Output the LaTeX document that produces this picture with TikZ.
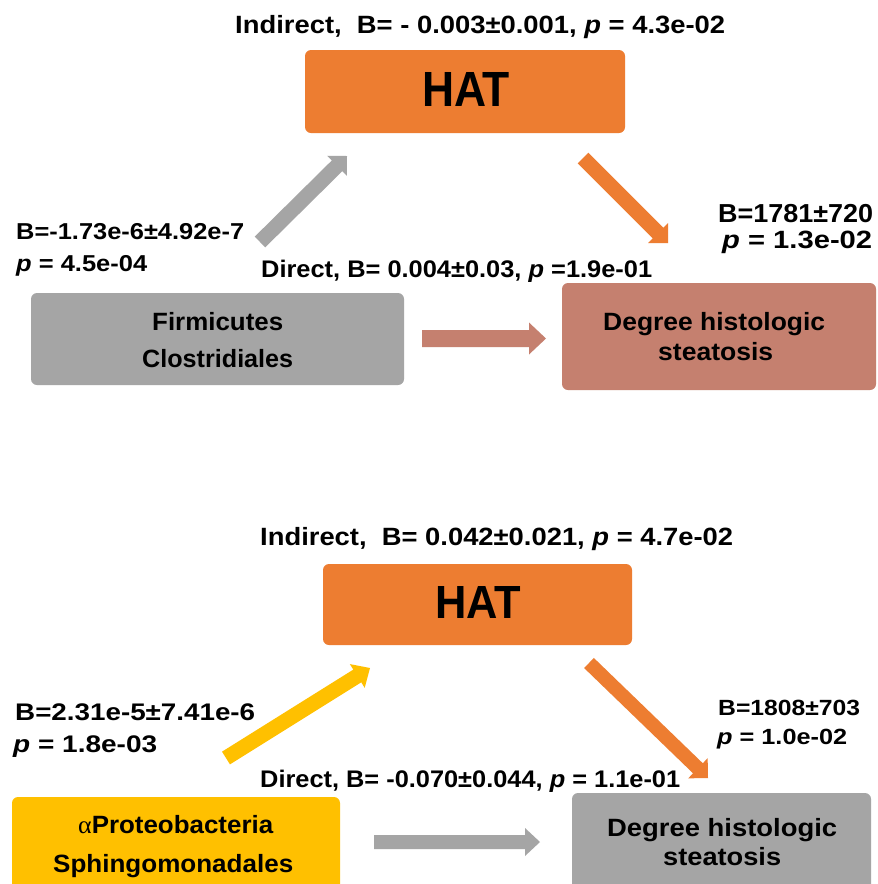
\documentclass[tikz,border=0pt]{standalone}
\usepackage{fontspec}
\setmainfont{Liberation Sans}
\newfontfamily\alphafont{Liberation Serif}
\usepackage{graphicx}
\usetikzlibrary{calc}
\definecolor{hatorange}{HTML}{ED7D31}
\definecolor{boxgray}{HTML}{A5A5A5}
\definecolor{steabrown}{HTML}{C5806F}
\definecolor{protoyellow}{HTML}{FFC000}
\newcommand\fw[2]{\resizebox{#1pt}{\height}{#2}}
\newcommand\blockarrow[6]{%
  \coordinate (hb) at ($(#3)!#6!(#2)$);
  \fill[#1] ($(#2)!#4!90:(#3)$) -- ($(hb)!#4!-90:(#2)$) -- ($(hb)!#5!-90:(#2)$) -- (#3)
    -- ($(hb)!#5!90:(#2)$) -- ($(hb)!#4!90:(#2)$) -- ($(#2)!#4!-90:(#3)$) -- cycle;}
\tikzset{
  box/.style={rectangle, rounded corners=6pt, inner sep=0pt, draw=none},
  lbl/.style={anchor=base west, inner sep=0pt},
  fs/.style={font=\bfseries\fontsize{#1}{#1}\selectfont},
}
\begin{document}
\begin{tikzpicture}[x=1pt,y=-1pt]
\clip (0,0) rectangle (878,884);
\fill[white] (0,0) rectangle (878,884);

% ---------- top panel ----------
\node[box, fill=hatorange, minimum width=320pt, minimum height=83pt] (hat1) at (465,91.5) {};
\node[inner sep=0pt, anchor=base] (hat1t) at (466,106) {\resizebox{88pt}{34pt}{\bfseries\fontsize{47}{47}\selectfont HAT}};
\node[box, fill=boxgray, minimum width=373pt, minimum height=92pt] (firm) at (217.5,339) {};
\node[box, fill=steabrown, minimum width=314pt, minimum height=107pt] (stea1) at (719,336.5) {};

\node[lbl, fs=25] (t1) at (235,33) {\fw{490}{Indirect,\ \ B=\ -\ 0.003±0.001, \textit{p} = 4.3e-02}};
\node[lbl, fs=23] (lb1a) at (16,239) {\fw{228}{B=-1.73e-6±4.92e-7}};
\node[lbl, fs=23] (lb1b) at (16,271) {\fw{131}{\textit{p} = 4.5e-04}};
\node[lbl, fs=26] (rb1a) at (718,222) {\fw{155}{B=1781±720}};
\node[lbl, fs=25] (rb1b) at (722,248) {\fw{150}{\textit{p} = 1.3e-02}};
\node[lbl, fs=24] (d1) at (261,277) {\fw{391}{Direct, B= 0.004±0.03, \textit{p} =1.9e-01}};
\node[lbl, fs=25] (f1) at (152,330) {\fw{131}{Firmicutes}};
\node[lbl, fs=25] (f2) at (142,367) {\fw{151}{Clostridiales}};
\node[lbl, fs=25] (s1a) at (603,330) {\fw{222}{Degree histologic}};
\node[lbl, fs=25] (s1b) at (658,360) {\fw{115}{steatosis}};

\coordinate (ga1a) at (260,242); \coordinate (ga1b) at (347,156);
\coordinate (oa1a) at (583,158); \coordinate (oa1b) at (668,243);
\coordinate (ba1a) at (422,338.5); \coordinate (ba1b) at (546,338.5);
\blockarrow{boxgray}{ga1a}{ga1b}{7.5pt}{14pt}{14pt}
\blockarrow{hatorange}{oa1a}{oa1b}{7.5pt}{14pt}{14pt}
\blockarrow{steabrown}{ba1a}{ba1b}{8.5pt}{16pt}{17pt}

% ---------- bottom panel ----------
\node[box, fill=hatorange, minimum width=309pt, minimum height=81pt] (hat2) at (477.5,604.5) {};
\node[inner sep=0pt, anchor=base] (hat2t) at (478,618) {\resizebox{86pt}{32pt}{\bfseries\fontsize{45}{45}\selectfont HAT}};
\node[box, fill=protoyellow, minimum width=328pt, minimum height=110pt] (proto) at (176,852) {};
\node[box, fill=boxgray, minimum width=299pt, minimum height=110pt] (stea2) at (721.5,848) {};

\node[lbl, fs=25] (t2) at (260,545) {\fw{473}{Indirect,\ \ B= 0.042±0.021, \textit{p} = 4.7e-02}};
\node[lbl, fs=24] (lb2a) at (15,720) {\fw{240}{B=2.31e-5±7.41e-6}};
\node[lbl, fs=24] (lb2b) at (13,752) {\fw{144}{\textit{p} = 1.8e-03}};
\node[lbl, fs=22] (rb2a) at (718,715) {\fw{142}{B=1808±703}};
\node[lbl, fs=22] (rb2b) at (717,744) {\fw{130}{\textit{p} = 1.0e-02}};
\node[lbl, fs=24] (d2) at (260,787) {\fw{420}{Direct, B= -0.070±0.044, \textit{p} = 1.1e-01}};
\node[lbl, fs=25] (a1) at (78,833) {\fw{195}{{\alphafont\mdseries α}Proteobacteria}};
\node[lbl, fs=25] (a2) at (53,872) {\fw{240}{Sphingomonadales}};
\node[lbl, fs=25] (s2a) at (607,836) {\fw{230}{Degree histologic}};
\node[lbl, fs=25] (s2b) at (663,865) {\fw{118}{steatosis}};

\coordinate (ya2a) at (226,758); \coordinate (ya2b) at (370,668);
\coordinate (oa2a) at (589,663); \coordinate (oa2b) at (708,778);
\coordinate (ga2a) at (374,842); \coordinate (ga2b) at (540,842);
\blockarrow{protoyellow}{ya2a}{ya2b}{7.5pt}{14pt}{15pt}
\blockarrow{hatorange}{oa2a}{oa2b}{7pt}{14pt}{14pt}
\blockarrow{boxgray}{ga2a}{ga2b}{7pt}{14pt}{15pt}
\end{tikzpicture}
\end{document}
